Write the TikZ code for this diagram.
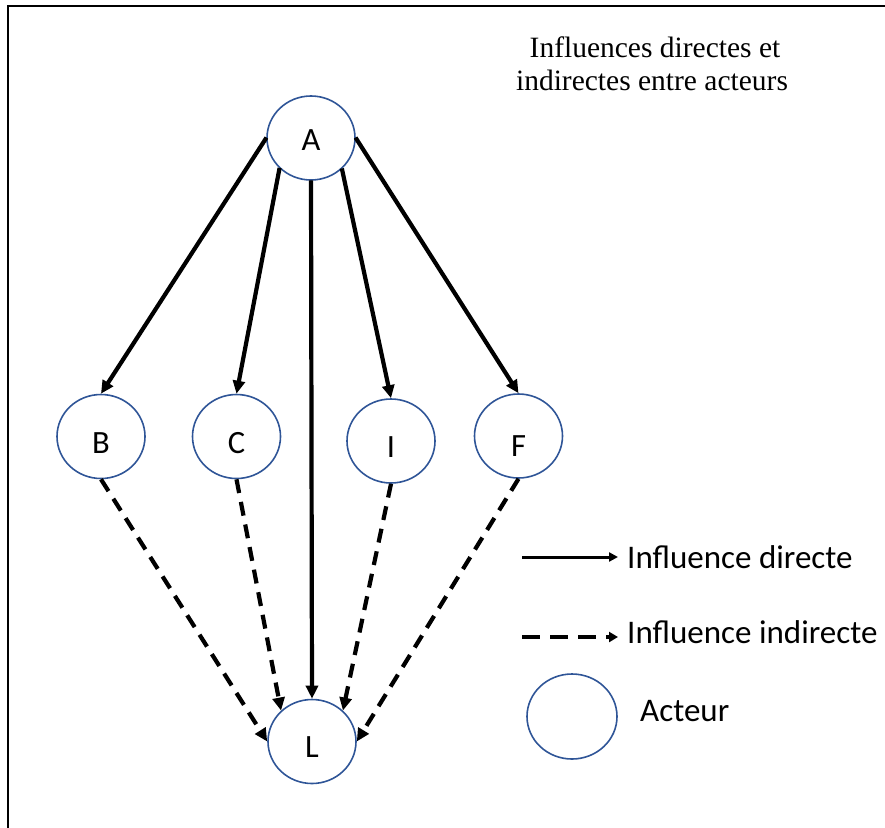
\documentclass[tikz,border=0pt]{standalone}
\usepackage{fontspec}
\setmainfont{Liberation Serif}
\newfontfamily\calfont{Carlito}
\usetikzlibrary{shapes.geometric,arrows.meta}
\definecolor{actblue}{RGB}{47,85,151}
\tikzset{
  actor/.style={ellipse, draw=actblue, line width=1.6pt, minimum width=88pt, minimum height=84pt, inner sep=0pt},
  lbl/.style={font=\calfont\fontsize{32.5}{38}\selectfont},
  direct/.style={line width=4.2pt, -{Triangle[length=13pt,width=12pt]}, shorten <=-0.5pt},
  indirect/.style={line width=4.2pt, dash pattern=on 14pt off 9pt, -{Triangle[length=13pt,width=12pt]}},
  legtext/.style={font=\calfont\fontsize{33}{38}\selectfont, anchor=base west, inner sep=0pt},
  titletext/.style={font=\fontsize{29.5}{34}\selectfont, anchor=base, inner sep=0pt}
}
\begin{document}
\begin{tikzpicture}[x=1pt,y=-1pt]
\useasboundingbox (0,0) rectangle (885,827);
\draw[line width=1.5pt] (8,830) -- (8,6) -- (890,6);
% title
\node[titletext] (t1) at (655,57) {Influences directes et};
\node[titletext] (t2) at (652,90) {indirectes entre acteurs};
% actors
\node[actor, label={[lbl,yshift=-2.5pt]center:A}] (A) at (311,138) {};
\node[actor, label={[lbl,yshift=-6.5pt]center:B}] (B) at (101,436.5) {};
\node[actor, label={[lbl,yshift=-6.5pt]center:C}] (C) at (236.5,436.5) {};
\node[actor, label={[lbl,yshift=-6pt]center:I}] (I) at (391,441) {};
\node[actor, label={[lbl,yshift=-10.5pt]center:F}] (F) at (518.5,436) {};
\node[actor, label={[lbl,yshift=-6pt]center:L}] (L) at (312,741.5) {};
% direct influences
\draw[direct] (A.west) -- (B.north);
\draw[direct] (A.224) -- (C.north);
\draw[direct] (A.south) -- (L.north);
\draw[direct] (A.315) -- (I.north);
\draw[direct] (A.east) -- (F.north);
% indirect influences
\draw[indirect] (B.south) -- (L.west);
\draw[indirect] (C.south) -- (L.135);
\draw[indirect] (I.south) -- (L.45);
\draw[indirect] (F.south) -- (L.east);
% legend
\coordinate (d1) at (522,557);
\coordinate (d2) at (618,557);
\coordinate (i1) at (522,637);
\coordinate (i2) at (618,637);
\draw[line width=3pt, -{Triangle[length=9pt,width=9pt]}] (d1) -- (d2);
\draw[line width=4pt, dash pattern=on 18pt off 10pt, -{Triangle[length=9pt,width=10pt]}] (i1) -- (i2);
\node[legtext] (ld) at (627,568) {Influence directe};
\node[legtext] (li) at (627,643) {Influence indirecte};
\node[actor, minimum width=90pt, minimum height=85pt] (leg) at (572,716.5) {};
\node[legtext] (la) at (640,721.5) {Acteur};
\end{tikzpicture}
\end{document}
